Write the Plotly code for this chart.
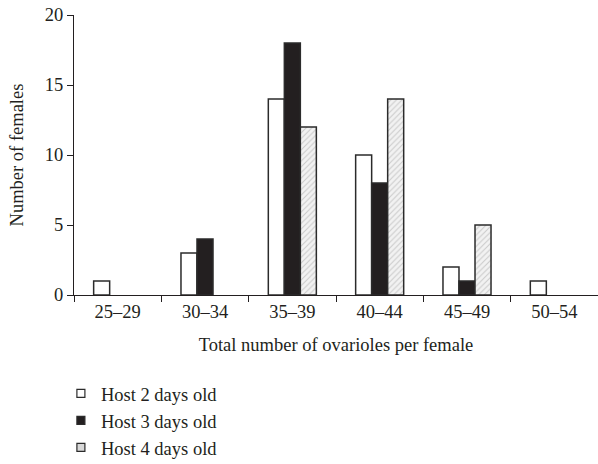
import plotly.graph_objects as go

categories = ["25–29", "30–34", "35–39", "40–44", "45–49", "50–54"]
host2 = [1, 3, 14, 10, 2, 1]
host3 = [0, 4, 18, 8, 1, 0]
host4 = [0, 0, 12, 14, 5, 0]
series_names = ["Host 2 days old", "Host 3 days old", "Host 4 days old"]
y_ticks = [0, 5, 10, 15, 20]

font = "Liberation Serif"
edge = "#2b2b2b"
ink = "#231f20"


def nz(vals):
    return [v if v != 0 else None for v in vals]


fig = go.Figure()
fig.add_trace(go.Bar(x=categories, y=nz(host2), name=series_names[0], showlegend=False,
                     marker=dict(color="white", line=dict(color=edge, width=1.5))))
fig.add_trace(go.Bar(x=categories, y=nz(host3), name=series_names[1], showlegend=False,
                     marker=dict(color=ink, line=dict(color=edge, width=1.5))))
fig.add_trace(go.Bar(x=categories, y=nz(host4), name=series_names[2], showlegend=False,
                     marker=dict(color="#ececec", line=dict(color=edge, width=1.5),
                                 pattern=dict(shape="/", fgcolor="#a0a0a0", bgcolor="#f2f2f2",
                                              size=4, solidity=0.25))))

# legend entries with small square swatches
legend_fill = ["white", ink, "#d8d8d8"]
for name, fill in zip(series_names, legend_fill):
    fig.add_trace(go.Scatter(x=[None], y=[None], mode="markers", name=name,
                             marker=dict(symbol="square", size=8, color=fill,
                                         line=dict(color=edge, width=1.2))))

fig.update_layout(
    width=598, height=464,
    margin=dict(l=74, r=0, t=15, b=169, autoexpand=False),
    plot_bgcolor="white", paper_bgcolor="white",
    barmode="group", bargap=0.45, bargroupgap=0,
    font=dict(family=font, size=18.5, color=ink),
    showlegend=True,
    legend=dict(x=-0.025, xanchor="left", y=-0.285, yanchor="top",
                orientation="v", font=dict(family=font, size=18.5),
                tracegroupgap=0, itemwidth=30, bgcolor="rgba(0,0,0,0)"),
    xaxis=dict(type="category", showline=True, linecolor=ink, linewidth=1.2,
               ticks="outside", tickson="boundaries", ticklen=6, tickcolor=ink,
               tickfont=dict(family=font, size=18.5), automargin=False,
               title=dict(text="Total number of ovarioles per female",
                          font=dict(family=font, size=18.5), standoff=16),
               showgrid=False, zeroline=False),
    yaxis=dict(range=[0, 20], tickvals=y_ticks, showline=True, linecolor=ink,
               linewidth=1.2, ticks="outside", ticklen=6, tickcolor=ink,
               tickfont=dict(family=font, size=18.5), automargin=False,
               title=dict(text="Number of females", font=dict(family=font, size=18.5), standoff=16),
               showgrid=False, zeroline=False),
)

fig.write_html("out.html", config={"displayModeBar": False},
               post_script="document.body.style.margin='0';")
